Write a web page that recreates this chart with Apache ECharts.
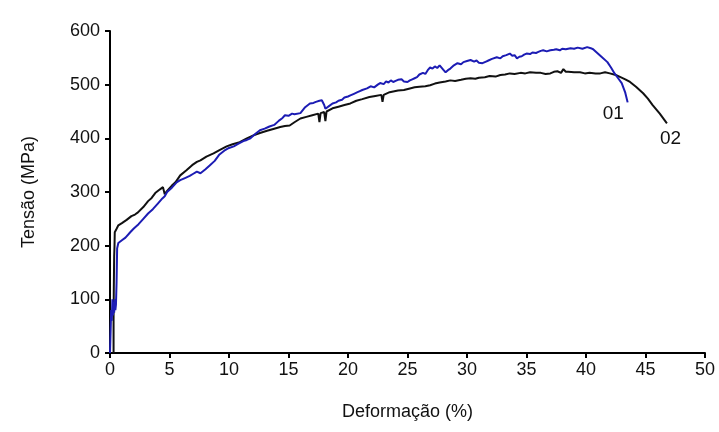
<!DOCTYPE html>
<html><head><meta charset="utf-8">
<script src="https://cdn.jsdelivr.net/npm/echarts@6/dist/echarts.min.js"></script>
<style>html,body{margin:0;padding:0;background:#fff}#c{width:719px;height:432px}</style>
</head><body><div id="c"></div>
<script>
const xTicks = [0,5,10,15,20,25,30,35,40,45,50];
const yTicks = [0,100,200,300,400,500,600];
const xTitle = 'Deformação (%)';
const yTitle = 'Tensão (MPa)';
const name01 = '01';
const name02 = '02';

const strain01 = [0,0.05,0.1,0.15,0.2,0.25,0.3,0.35,0.4,0.45,0.5,0.55,0.6,0.7,1.0,1.3,1.7,2.0,2.4,2.8,3.2,3.6,4.0,4.4,4.6,4.8,5.2,5.6,5.9,6.3,6.7,7.0,7.3,7.6,8.0,8.4,8.8,9.2,9.6,10.0,10.4,10.8,11.2,11.5,11.8,12.2,12.6,13.0,13.4,13.8,14.2,14.5,14.7,15.0,15.3,15.5,16.0,16.4,16.8,17.1,17.3,17.6,17.8,18.0,18.1,18.4,18.7,19.0,19.2,19.5,19.7,20.0,20.2,20.5,20.8,21.0,21.2,21.6,21.9,22.2,22.5,22.7,23.0,23.2,23.4,23.6,23.8,24.0,24.2,24.5,24.7,25.0,25.2,25.4,25.6,25.8,26.0,26.3,26.5,26.7,26.9,27.1,27.3,27.5,27.7,28.0,28.2,28.4,28.6,28.9,29.2,29.5,29.7,30.0,30.3,30.6,30.8,31.0,31.3,31.6,31.8,32.1,32.5,32.8,33.0,33.3,33.6,33.8,34.0,34.2,34.4,34.6,34.8,35.0,35.3,35.5,35.8,36.0,36.2,36.4,36.7,37.0,37.3,37.5,37.8,38.0,38.3,38.7,39.0,39.3,39.7,40.1,40.4,40.6,40.9,41.3,41.8,42.1,42.4,42.7,43.0,43.3,43.5];
const stress01 = [0,40,80,60,100,70,95,75,100,80,90,130,195,205,210,215,225,232,240,250,260,268,278,288,292,300,308,318,322,326,330,334,338,335,342,350,358,370,377,382,385,390,395,397,400,408,415,418,422,425,433,438,443,442,446,445,447,458,465,466,468,470,471,462,455,460,465,467,470,472,476,478,480,483,486,488,490,493,497,495,500,503,501,506,504,508,505,507,509,510,506,505,508,510,512,514,519,522,520,527,532,530,534,531,536,528,523,527,530,536,540,538,542,544,546,543,545,541,540,543,545,548,551,549,553,555,558,554,555,549,552,553,556,558,557,560,559,561,563,564,562,564,565,566,564,567,566,568,567,569,567,570,568,566,560,552,542,532,521,512,503,485,467];

const strain02 = [0.3,0.3,0.32,0.35,0.38,0.4,0.5,0.7,1.0,1.4,1.8,2.1,2.35,2.8,3.2,3.5,3.8,4.2,4.45,4.6,4.8,5.2,5.5,5.9,6.4,6.9,7.3,7.6,8.1,8.7,9.2,9.8,10.3,10.9,11.5,12.0,12.6,13.2,13.8,14.3,14.7,15.1,15.5,16.0,16.5,17.0,17.5,17.6,17.7,18.0,18.1,18.2,18.7,19.2,19.7,20.2,20.7,21.2,21.8,22.3,22.8,22.9,23.0,23.5,24.2,24.7,25.2,25.6,26.0,26.5,26.9,27.3,27.7,28.2,28.6,29.0,29.5,29.9,30.3,30.7,31.0,31.5,31.9,32.4,32.8,33.2,33.6,34.0,34.5,34.9,35.3,35.8,36.2,36.6,37.0,37.3,37.6,37.9,38.1,38.3,38.5,39.0,39.5,39.9,40.3,40.8,41.2,41.6,42.0,42.5,42.9,43.3,43.7,44.2,44.8,45.2,45.6,46.2,46.8];
const stress02 = [0,60,120,180,200,225,229,238,242,248,255,258,262,272,283,289,298,305,309,296,302,312,318,331,340,350,356,359,366,372,378,385,389,393,400,405,410,414,418,421,423,424,430,437,440,443,446,430,447,449,432,450,456,459,462,465,470,473,477,479,481,468,481,486,489,490,493,495,496,497,499,502,504,506,508,507,509,511,512,511,513,514,516,515,518,519,521,520,522,521,523,522,522,520,521,524,525,522,529,524,524,523,523,521,522,521,521,523,521,518,514,510,505,496,484,474,462,446,428];

const pairs = (xs, ys) => xs.map((x, i) => [x, ys[i]]);
const FONT = '"Liberation Sans", Arial, sans-serif';

const chart = echarts.init(document.getElementById('c'), null, {renderer: 'canvas'});
chart.setOption({
  animation: false,
  backgroundColor: '#fff',
  grid: {left: 110, right: 14, top: 31, bottom: 79, containLabel: false},
  xAxis: {
    type: 'value', min: xTicks[0], max: xTicks[xTicks.length-1], interval: 5,
    name: xTitle, nameLocation: 'middle', nameGap: 50,
    nameTextStyle: {fontFamily: FONT, fontSize: 18, color: '#111'},
    axisLine: {show: true, lineStyle: {color: '#000', width: 2}},
    axisTick: {show: true, inside: false, length: 5, lineStyle: {color: '#000', width: 2}},
    axisLabel: {fontFamily: FONT, fontSize: 18, color: '#111', margin: 8},
    splitLine: {show: false}
  },
  yAxis: {
    type: 'value', min: yTicks[0], max: yTicks[yTicks.length-1], interval: 100,
    name: yTitle, nameLocation: 'middle', nameGap: 72, nameRotate: 90,
    nameTextStyle: {fontFamily: FONT, fontSize: 18, color: '#111'},
    axisLine: {show: true, lineStyle: {color: '#000', width: 2}},
    axisTick: {show: true, inside: false, length: 5, lineStyle: {color: '#000', width: 2}},
    axisLabel: {fontFamily: FONT, fontSize: 18, color: '#111', margin: 10},
    splitLine: {show: false}
  },
  series: [
    {
      name: name02, type: 'line', data: pairs(strain02, stress02), showSymbol: false, symbol: 'none',
      lineStyle: {color: '#111', width: 2}, z: 2,
      endLabel: {show: true, formatter: name02, fontFamily: FONT, fontSize: 19, color: '#111', offset: [-15, 15]}
    },
    {
      name: name01, type: 'line', data: pairs(strain01, stress01), showSymbol: false, symbol: 'none',
      lineStyle: {color: '#1c1cb4', width: 2}, z: 3,
      endLabel: {show: true, formatter: name01, fontFamily: FONT, fontSize: 19, color: '#111', offset: [-33, 11]}
    }
  ]
});
</script></body></html>
